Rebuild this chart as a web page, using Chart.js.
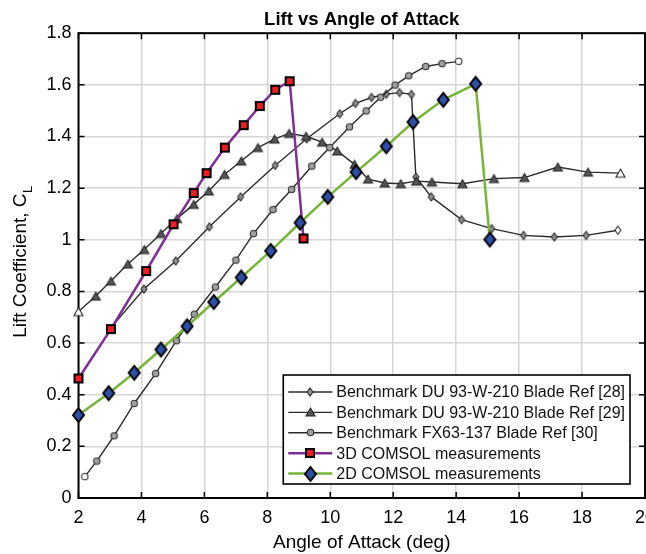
<!DOCTYPE html>
<html>
<head>
<meta charset="utf-8">
<script src="https://cdn.jsdelivr.net/npm/chart.js@4.4.1/dist/chart.umd.min.js"></script>
<style>
html,body{margin:0;padding:0;overflow:hidden;background:#fff;width:646px;height:554px}
#wrap{width:680px;height:554px}
canvas{display:block}
</style>
</head>
<body>
<div id="wrap"><canvas id="c" width="680" height="554"></canvas></div>
<script>
// ---------------- data ----------------
const chartTitle = 'Lift vs Angle of Attack';
const xAxisTitle = 'Angle of Attack (deg)';
const yAxisTitle = 'Lift Coefficient, C';
const yAxisTitleSub = 'L';

const xTickValues = [2, 4, 6, 8, 10, 12, 14, 16, 18, 20];
const xTickLabels = ['2', '4', '6', '8', '10', '12', '14', '16', '18', '20'];
const yTickValues = [0, 0.2, 0.4, 0.6, 0.8, 1, 1.2, 1.4, 1.6, 1.8];
const yTickLabels = ['0', '0.2', '0.4', '0.6', '0.8', '1', '1.2', '1.4', '1.6', '1.8'];

const seriesNames = [
  'Benchmark DU 93-W-210 Blade Ref [28]',
  'Benchmark DU 93-W-210 Blade Ref [29]',
  'Benchmark FX63-137 Blade Ref [30]',
  '3D COMSOL measurements',
  '2D COMSOL measurements'
];

const ref28Angle = [3.0, 4.08, 5.09, 6.16, 7.15, 8.25, 9.25, 10.3, 10.8, 11.31, 11.78, 12.2, 12.58, 12.72, 13.21, 14.17, 15.13, 16.14, 17.12, 18.13, 19.14];
const ref28Cl    = [0.655, 0.809, 0.918, 1.05, 1.166, 1.288, 1.391, 1.488, 1.528, 1.551, 1.564, 1.57, 1.563, 1.243, 1.166, 1.078, 1.043, 1.017, 1.011, 1.017, 1.037];

const ref29Angle = [2.0, 2.55, 3.03, 3.57, 4.09, 4.62, 5.13, 5.66, 6.14, 6.64, 7.17, 7.7, 8.23, 8.69, 9.23, 9.74, 10.22, 10.77, 11.2, 11.73, 12.24, 12.73, 13.23, 14.2, 15.2, 16.17, 17.23, 18.19, 19.22];
const ref29Cl    = [0.722, 0.782, 0.84, 0.906, 0.962, 1.024, 1.082, 1.137, 1.189, 1.253, 1.305, 1.357, 1.39, 1.412, 1.401, 1.378, 1.344, 1.292, 1.235, 1.22, 1.217, 1.227, 1.224, 1.217, 1.237, 1.241, 1.282, 1.262, 1.258];

const ref30Angle = [2.2, 2.58, 3.13, 3.77, 4.45, 5.11, 5.68, 6.35, 7.0, 7.56, 8.18, 8.77, 9.41, 9.98, 10.61, 11.14, 11.6, 12.06, 12.49, 13.03, 13.55, 14.08];
const ref30Cl    = [0.083, 0.143, 0.241, 0.366, 0.482, 0.609, 0.712, 0.817, 0.921, 1.024, 1.117, 1.195, 1.285, 1.357, 1.437, 1.499, 1.552, 1.599, 1.635, 1.671, 1.682, 1.691];

const comsol3dAngle = [2.0, 3.03, 4.15, 5.02, 5.66, 6.07, 6.65, 7.25, 7.76, 8.25, 8.71, 9.15];
const comsol3dCl    = [0.463, 0.654, 0.879, 1.06, 1.181, 1.258, 1.357, 1.444, 1.518, 1.581, 1.614, 1.005];

const comsol2dAngle = [2.0, 2.96, 3.77, 4.62, 5.45, 6.3, 7.17, 8.11, 9.04, 9.92, 10.82, 11.78, 12.63, 13.59, 14.62, 15.07];
const comsol2dCl    = [0.321, 0.406, 0.485, 0.575, 0.665, 0.759, 0.854, 0.957, 1.066, 1.166, 1.262, 1.362, 1.456, 1.542, 1.604, 1.001];

// ---------------- styling helpers ----------------
const FONT = '"Liberation Sans", Arial, Helvetica, sans-serif';

function makeMarker(shape, w, h, fill, stroke, lw) {
  const pad = Math.ceil(lw) + 1;
  const c = document.createElement('canvas');
  c.width = Math.round(w + 2 * pad);
  c.height = Math.round(h + 2 * pad);
  const g = c.getContext('2d');
  const cx = c.width / 2, cy = c.height / 2;
  g.beginPath();
  if (shape === 'diamond') {
    g.moveTo(cx, cy - h / 2); g.lineTo(cx + w / 2, cy); g.lineTo(cx, cy + h / 2); g.lineTo(cx - w / 2, cy); g.closePath();
  } else if (shape === 'square') {
    g.rect(cx - w / 2, cy - h / 2, w, h);
  } else if (shape === 'triangle') {
    g.moveTo(cx, cy - h / 2); g.lineTo(cx + w / 2, cy + h / 2); g.lineTo(cx - w / 2, cy + h / 2); g.closePath();
  } else {
    g.ellipse(cx, cy, w / 2, h / 2, 0, 0, Math.PI * 2);
  }
  g.fillStyle = fill; g.fill();
  g.lineWidth = lw; g.strokeStyle = stroke; g.stroke();
  return c;
}

const mk28 = makeMarker('diamond', 6, 8, '#909090', '#2e2e2e', 1.1);
const mk28w = makeMarker('diamond', 6, 8, '#ffffff', '#2e2e2e', 1.1);
const mk29 = makeMarker('triangle', 9, 8, '#555555', '#262626', 1.1);
const mk29w = makeMarker('triangle', 9, 8, '#ffffff', '#262626', 1.1);
const mk30 = makeMarker('circle', 6.5, 6.5, '#a0a0a0', '#2e2e2e', 1.1);
const mk30w = makeMarker('circle', 6.5, 6.5, '#ffffff', '#2e2e2e', 1.1);
const mk3d = makeMarker('square', 8, 8, '#ee1c24', '#000', 2);
const mk2d = makeMarker('diamond', 11, 14, '#2e4fa6', '#000', 2);

function endWhite(normal, white, first, last) {
  return (ctx) => {
    const n = ctx.dataset.data.length;
    if ((first && ctx.dataIndex === 0) || (last && ctx.dataIndex === n - 1)) return white;
    return normal;
  };
}

function pts(xs, ys) { return xs.map((x, i) => ({ x: x, y: ys[i] })); }

const legendMarkers = [mk28, mk29, mk30, mk3d, mk2d];
const lineColors = ['#2b2b2b', '#2b2b2b', '#2b2b2b', '#7f2f93', '#76b53a'];
const lineWidths = [1.4, 1.4, 1.4, 2.5, 2.5];

// ---------------- plugins ----------------
const framePlugin = {
  id: 'frame',
  beforeDatasetsDraw(chart) {
    const ctx = chart.ctx, ca = chart.chartArea;
    const xs = chart.scales.x, ys = chart.scales.y;
    ctx.save();
    ctx.strokeStyle = '#000';
    ctx.lineWidth = 1.5;
    const tl = 6;
    ctx.beginPath();
    xTickValues.forEach(v => {
      const px = xs.getPixelForValue(v);
      ctx.moveTo(px, ca.bottom); ctx.lineTo(px, ca.bottom - tl);
      ctx.moveTo(px, ca.top); ctx.lineTo(px, ca.top + tl);
    });
    yTickValues.forEach(v => {
      const py = ys.getPixelForValue(v);
      ctx.moveTo(ca.left, py); ctx.lineTo(ca.left + tl, py);
      ctx.moveTo(ca.right, py); ctx.lineTo(ca.right - tl, py);
    });
    ctx.stroke();
    ctx.lineWidth = 2;
    ctx.strokeRect(ca.left, ca.top, ca.right - ca.left, ca.bottom - ca.top);
    ctx.restore();
  }
};

const subscriptPlugin = {
  id: 'ysub',
  afterDraw(chart) {
    const ctx = chart.ctx;
    const ys = chart.scales.y;
    const t = ys.options.title;
    const size = t.font.size;
    const lh = size * 1.2;
    ctx.save();
    ctx.font = size + 'px ' + FONT;
    const w = ctx.measureText(yAxisTitle).width;
    const cx = ys.left + t.padding.top + lh / 2;
    const cy = (ys.top + ys.bottom) / 2;
    ctx.translate(cx, cy);
    ctx.rotate(-Math.PI / 2);
    ctx.font = Math.round(size * 0.7) + 'px ' + FONT;
    ctx.fillStyle = '#000';
    ctx.textAlign = 'left';
    ctx.textBaseline = 'middle';
    ctx.fillText(yAxisTitleSub, w / 2 + 0.5, size * 0.42);
    ctx.restore();
  }
};

const legendPlugin = {
  id: 'boxLegend',
  afterDraw(chart) {
    const ctx = chart.ctx, ca = chart.chartArea;
    ctx.save();
    const fs = 16;
    ctx.font = fs + 'px ' + FONT;
    const textW = Math.max(...seriesNames.map(n => ctx.measureText(n).width));
    const padL = 5, lineLen = 44, gap = 4, padR = 5;
    const boxW = padL + lineLen + gap + textW + padR;
    const boxH = 109;
    const right = ca.right - 15, bottom = ca.bottom - 14;
    const left = right - boxW, top = bottom - boxH;
    ctx.fillStyle = '#fff';
    ctx.fillRect(left, top, boxW, boxH);
    ctx.lineWidth = 1.6;
    ctx.strokeStyle = '#000';
    ctx.strokeRect(left, top, boxW, boxH);
    const rowH = 20.4;
    seriesNames.forEach((name, i) => {
      const y = top + 17 + i * rowH;
      const x0 = left + padL, x1 = x0 + lineLen;
      ctx.beginPath();
      ctx.strokeStyle = lineColors[i];
      ctx.lineWidth = lineWidths[i];
      ctx.moveTo(x0, y); ctx.lineTo(x1, y); ctx.stroke();
      const m = legendMarkers[i];
      ctx.drawImage(m, Math.round((x0 + x1) / 2 - m.width / 2), Math.round(y - m.height / 2));
      ctx.fillStyle = '#111';
      ctx.textAlign = 'left';
      ctx.textBaseline = 'middle';
      ctx.fillText(name, x1 + gap, y + 1);
    });
    ctx.restore();
  }
};

// ---------------- chart ----------------
Chart.defaults.font.family = FONT;
Chart.defaults.color = '#000';

const datasets = [
  {
    label: seriesNames[0], data: pts(ref28Angle, ref28Cl),
    borderColor: lineColors[0], borderWidth: lineWidths[0],
    pointStyle: endWhite(mk28, mk28w, false, true), pointRadius: 4, order: 4
  },
  {
    label: seriesNames[1], data: pts(ref29Angle, ref29Cl),
    borderColor: lineColors[1], borderWidth: lineWidths[1],
    pointStyle: endWhite(mk29, mk29w, true, true), pointRadius: 4, order: 3
  },
  {
    label: seriesNames[2], data: pts(ref30Angle, ref30Cl),
    borderColor: lineColors[2], borderWidth: lineWidths[2],
    pointStyle: endWhite(mk30, mk30w, true, true), pointRadius: 4, order: 2
  },
  {
    label: seriesNames[3], data: pts(comsol3dAngle, comsol3dCl),
    borderColor: lineColors[3], borderWidth: lineWidths[3],
    pointStyle: mk3d, pointRadius: 6, order: 1
  },
  {
    label: seriesNames[4], data: pts(comsol2dAngle, comsol2dCl),
    borderColor: lineColors[4], borderWidth: lineWidths[4],
    pointStyle: mk2d, pointRadius: 7, order: 0
  }
];
datasets.forEach(d => { d.showLine = true; d.tension = 0; d.clip = false; d.fill = false; d.backgroundColor = d.borderColor; });

new Chart(document.getElementById('c'), {
  type: 'scatter',
  data: { datasets: datasets },
  plugins: [framePlugin, subscriptPlugin, legendPlugin],
  options: {
    responsive: false,
    animation: false,
    devicePixelRatio: 1,
    layout: { padding: { left: 8.5, right: 35, top: 0.5, bottom: 0 } },
    plugins: {
      legend: { display: false },
      tooltip: { enabled: false },
      title: {
        display: true, text: chartTitle, fullSize: false, color: '#000',
        font: { size: 18.5, weight: 'bold', family: FONT, lineHeight: 1.2 },
        padding: { top: 8, bottom: 2.5 }
      }
    },
    scales: {
      x: {
        type: 'linear', min: 2, max: 20,
        afterBuildTicks: s => { s.ticks = xTickValues.map(v => ({ value: v })); },
        afterFit: s => { s.height = 56; },
        ticks: { callback: (v, i) => xTickLabels[i], font: { size: 18 }, color: '#000', padding: 9, maxRotation: 0, autoSkip: false },
        grid: { color: '#d6d6d6', lineWidth: 1.5, drawTicks: false },
        border: { display: false },
        title: { display: true, text: xAxisTitle, color: '#000', font: { size: 19, lineHeight: 1.2 }, padding: { top: 0, bottom: 0 } }
      },
      y: {
        type: 'linear', min: 0, max: 1.8,
        afterBuildTicks: s => { s.ticks = yTickValues.map(v => ({ value: v })); },
        afterFit: s => { s.width = 70; },
        ticks: { callback: (v, i) => yTickLabels[i], font: { size: 18 }, color: '#000', padding: 7, autoSkip: false },
        grid: { color: '#d6d6d6', lineWidth: 1.5, drawTicks: false },
        border: { display: false },
        title: { display: true, text: yAxisTitle, color: '#000', font: { size: 19, lineHeight: 1.2 }, padding: { top: 1, bottom: 0 } }
      }
    }
  }
});
</script>
</body>
</html>
